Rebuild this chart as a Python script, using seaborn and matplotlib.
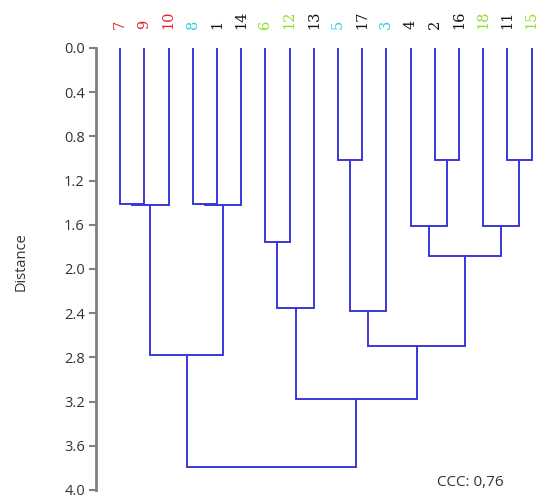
import matplotlib
matplotlib.use("Agg")
import matplotlib.pyplot as plt
import seaborn as sns

sns.set_theme(style="white")
plt.rcParams["font.family"] = ["Open Sans", "DejaVu Sans"]

# Leaf order along the top of the dendrogram and their group colours
leaves = ["7", "9", "10", "8", "1", "14", "6", "12", "13", "5", "17", "3",
          "4", "2", "16", "18", "11", "15"]
leaf_colors = ["#e8202a", "#e8202a", "#e8202a", "#28d0e0", "#111111", "#111111",
               "#8ee028", "#8ee028", "#111111", "#28d0e0", "#111111", "#28d0e0",
               "#111111", "#111111", "#111111", "#8ee028", "#111111", "#8ee028"]

# Agglomeration steps: (left member, right member, distance).
# Members are leaf labels or the index ("c<k>") of an earlier merge.
merge_left = ["7", "c0", "8", "c2", "c1", "6", "c5", "5", "c7", "2", "4", "11", "18",
              "c10", "c8", "c6", "c4"]
merge_right = ["9", "10", "1", "14", "c3", "12", "13", "17", "3", "16", "c9", "15", "c11",
               "c12", "c13", "c14", "c15"]
merge_height = [1.41, 1.42, 1.41, 1.42, 2.78, 1.76, 2.35, 1.01, 2.38, 1.01, 1.61, 1.01,
                1.61, 1.88, 2.70, 3.18, 3.79]

ccc_text = "CCC: 0,76"

fig = plt.figure(figsize=(5.47, 5.01), dpi=100)
ax = fig.add_axes([0.1755, 0.022, 0.8245, 0.8822])

line_color = "#3a38d8"
pos = {name: (i, 0.0) for i, name in enumerate(leaves)}
for k, (a, b, h) in enumerate(zip(merge_left, merge_right, merge_height)):
    xa, ya = pos[a]
    xb, yb = pos[b]
    ax.plot([xa, xa, xb, xb], [ya, h, h, yb], color=line_color, lw=1.4,
            solid_joinstyle="miter")
    pos[f"c{k}"] = ((xa + xb) / 2, h)

ax.set_xlim(-1, 17.64)
ax.set_ylim(4.0, 0.0)

yt = [0.0, 0.4, 0.8, 1.2, 1.6, 2.0, 2.4, 2.8, 3.2, 3.6, 4.0]
ax.set_yticks(yt)
ax.set_yticklabels([f"{v:.1f}" for v in yt], fontsize=10.5, color="#333333")
ax.tick_params(axis="y", direction="out", length=5, width=1.5, color="#808080",
               left=True, pad=3)

ax.xaxis.tick_top()
ax.set_xticks(range(len(leaves)))
ax.set_xticklabels(leaves, rotation=90, fontsize=10.5, family="DejaVu Serif",
                   va="bottom")
ax.tick_params(axis="x", length=0, pad=14)
for lbl, c in zip(ax.get_xticklabels(), leaf_colors):
    lbl.set_color(c)

for s in ["top", "right", "bottom"]:
    ax.spines[s].set_visible(False)
ax.spines["left"].set_color("#808080")
ax.spines["left"].set_linewidth(2)

fig.text(21 / 547, 1 - 262 / 501, "Distance", rotation=90, ha="center", va="center",
         fontsize=10.5, color="#333333")
fig.text(470 / 547, 1 - 483 / 501, ccc_text, ha="center", va="center",
         fontsize=11, color="#333333")

fig.savefig("out.png", dpi=100)
